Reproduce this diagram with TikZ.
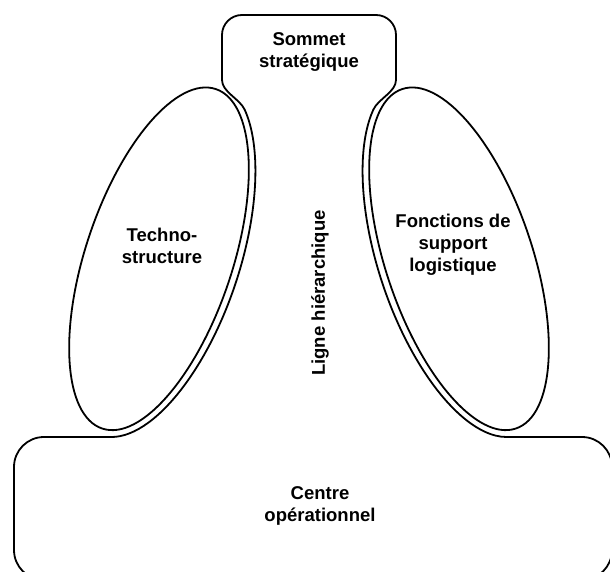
\documentclass[tikz,border=0pt]{standalone}
\usepackage{fontspec}
\setmainfont{Liberation Sans}
\begin{document}
\begin{tikzpicture}[x=1pt,y=1pt,
  outline/.style={line width=1.8pt, line cap=round, line join=round},
  lbl/.style={font=\fontsize{18.5}{22}\selectfont\bfseries, align=center, inner sep=0pt}]
\useasboundingbox (0,0) rectangle (610,571);
% left ellipse (Technostructure)
\begin{scope}[shift={(159,312.2)}, rotate=71.5]
  \draw[outline] (0,0) ellipse [x radius=179, y radius=73.4];
  \draw[outline] (188.23:186 and 80.4) arc [start angle=188.23, end angle=335, x radius=186, y radius=80.4];
  \coordinate (LJ) at (335:186 and 80.4);
  \coordinate (LB) at (188.23:186 and 80.4);
\end{scope}
% right ellipse (support logistique)
\begin{scope}[shift={(459,312.2)}, rotate=108.5]
  \draw[outline] (0,0) ellipse [x radius=179, y radius=73.4];
  \draw[outline] (25:186 and 80.4) arc [start angle=25, end angle=171.77, x radius=186, y radius=80.4];
  \coordinate (RJ) at (25:186 and 80.4);
  \coordinate (RB) at (171.77:186 and 80.4);
\end{scope}
% top box (sommet strategique) with the neck
\draw[outline] (LJ) .. controls +(114.3:12) and +(0,-12) .. (222,491)
  -- (222,536) arc [start angle=180, end angle=90, radius=20]
  -- (376,556) arc [start angle=90, end angle=0, radius=20]
  -- (396,491) .. controls +(0,-12) and +(65.7:12) .. (RJ);
% bottom box (centre operationnel)
\draw[outline] (LB) -- (44,134) arc [start angle=90, end angle=180, radius=30]
  -- (14,21) arc [start angle=180, end angle=270, radius=30]
  -- (582,-9) arc [start angle=270, end angle=360, radius=30]
  -- (612,104) arc [start angle=0, end angle=90, radius=30]
  -- (RB);
% labels
\node[lbl] (sommet) at (309,519) {Sommet\\stratégique};
\node[lbl] (techno) at (162,325) {Techno-\\structure};
\node[lbl] (support) at (453,326) {Fonctions de\\support\\logistique};
\node[lbl, rotate=90] (ligne) at (320,278) {Ligne hiérarchique};
\node[lbl] (centre) at (320,65) {Centre\\opérationnel};
\end{tikzpicture}
\end{document}
